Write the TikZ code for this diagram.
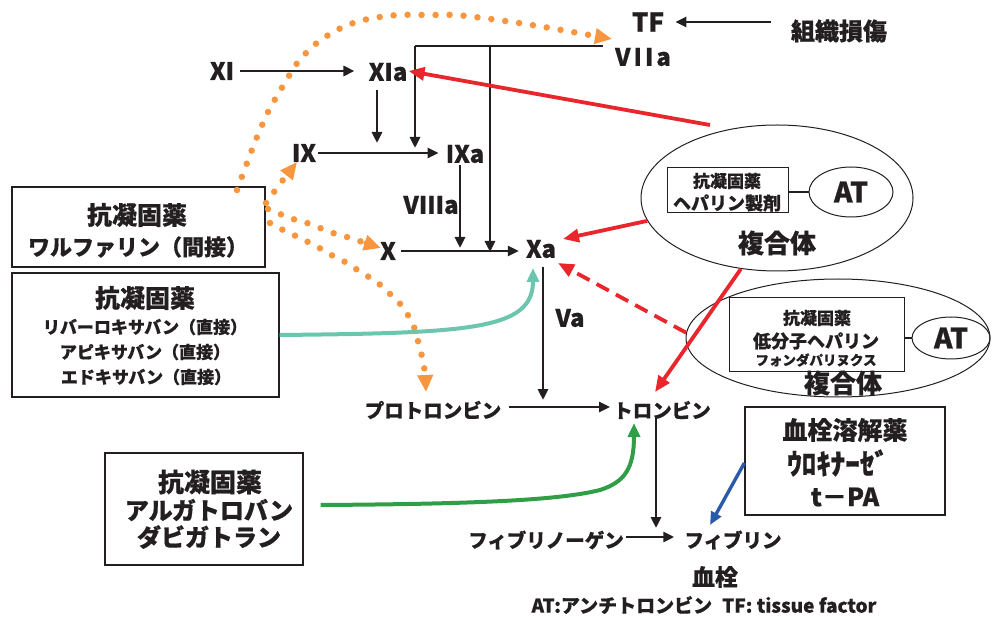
\documentclass[tikz,border=0pt]{standalone}
\usepackage{fontspec}
\setmainfont{Noto Sans CJK JP}[BoldFeatures={FakeBold=0.6}]
\usetikzlibrary{arrows.meta,shapes.geometric}
\definecolor{txt}{HTML}{231F20}
\definecolor{myred}{HTML}{E8262C}
\definecolor{myorange}{HTML}{F7963E}
\definecolor{myteal}{HTML}{6CC5AE}
\definecolor{mygreen}{HTML}{2F9E47}
\definecolor{myblue}{HTML}{2A5BAA}
\newcommand{\fsz}[1]{\fontsize{#1}{#1}\selectfont}
\begin{document}
\begin{tikzpicture}[x=1pt,y=-1pt,
 every node/.style={inner sep=0pt,text=txt,font=\bfseries},
 lbox/.style={draw=txt,line width=1.3pt},
 thin/.style={draw=txt,line width=1pt},
 ar/.style={draw=txt,line width=2.8pt,-{Triangle[length=11pt,width=10pt]}},
 ln/.style={draw=txt,line width=2.8pt},
 redar/.style={draw=myred,line width=3.8pt,-{Triangle[length=16pt,width=13pt]}},
 reddash/.style={draw=myred,line width=3.8pt,dash pattern=on 14pt off 8pt,-{Triangle[length=16pt,width=13pt]}},
 orar/.style={draw=myorange,line width=6.5pt,line cap=round,dash pattern=on 0pt off 14pt,-{Triangle[length=17pt,width=15pt]}},
 tealar/.style={draw=myteal,line width=4pt,-{Triangle[length=14pt,width=12pt]}},
 greenar/.style={draw=mygreen,line width=4pt,-{Triangle[length=14pt,width=12pt]}},
 bluear/.style={draw=myblue,line width=3.4pt,-{Triangle[length=13pt,width=11pt]}},
 fac/.style={font=\bfseries\fsz{24}},
 jp/.style={font=\bfseries\fsz{19.5}}
]
\useasboundingbox (0,0) rectangle (993,617);

% factor labels
\node[font=\bfseries\fsz{26}] (TF) at (648,22) {TF};
\node[font=\bfseries\fsz{24}] (injury) at (839,31) {組織損傷};
\node[fac] (VIIa) at (643,57) {V\hspace{3pt}I\hspace{3pt}I\hspace{3pt}a};
\node[fac] (XI) at (222,71) {XI};
\node[fac] (XIa) at (388,72) {XIa};
\node[fac] (IX) at (304,153) {IX};
\node[fac] (IXa) at (465,154) {IXa};
\node[fac] (VIIIa) at (431,205) {VIIIa};
\node[fac] (X) at (388,251) {X};
\node[fac] (Xa) at (541,249) {Xa};
\node[fac] (Va) at (570,318) {Va};
\node[jp] (proth) at (433,410) {プロトロンビン};
\node[jp] (thr) at (662,410) {トロンビン};
\node[jp] (fibg) at (546,540) {フィブリノーゲン};
\node[jp] (fib) at (733,540) {フィブリン};
\node[font=\bfseries\fsz{23}] (clot) at (715,577) {血栓};
\node[font=\bfseries\fsz{19}] (note) at (704,605) {AT:アンチトロンビン\hspace{10pt}TF: tissue factor};

% left boxes
\node[lbox,minimum width=253pt,minimum height=80pt] (wbox) at (138.5,227) {};
\node[font=\bfseries\fsz{25}] (w1) at (137,215) {抗凝固薬};
\node[font=\bfseries\fsz{22}] (w2) at (138,247) {ワルファリン（間接）};

\node[lbox,minimum width=267pt,minimum height=124pt] (rbox) at (145.5,335) {};
\node[font=\bfseries\fsz{25}] (r1) at (145,298) {抗凝固薬};
\node[font=\bfseries\fsz{17}] (r2) at (145,327) {リバーロキサバン（直接）};
\node[font=\bfseries\fsz{17}] (r3) at (145,352) {アピキサバン（直接）};
\node[font=\bfseries\fsz{17}] (r4) at (146,377) {エドキサバン（直接）};

\node[lbox,minimum width=198pt,minimum height=112pt] (abox) at (204,509) {};
\node[font=\bfseries\fsz{26}] (a1) at (210,482) {抗凝固薬};
\node[font=\bfseries\fsz{24}] (a2) at (209,510) {アルガトロバン};
\node[font=\bfseries\fsz{24}] (a3) at (209,537) {ダビガトラン};

% thrombolytic box
\node[lbox,minimum width=200pt,minimum height=108pt] (lbx) at (845,461) {};
\node[font=\bfseries\fsz{25}] (l1) at (845,430) {血栓溶解薬};
\node[font=\bfseries\fsz{29}] (l2) at (838,463) {ｳﾛｷﾅｰｾﾞ};
\node[font=\bfseries\fsz{25}] (l3) at (845,497) {t－PA};

% complex 1
\node[thin,ellipse,minimum width=272pt,minimum height=146pt] (cx1) at (777,198) {};
\node[thin,minimum width=121pt,minimum height=45pt] (ib1) at (727.5,190.5) {};
\node[font=\bfseries\fsz{17}] (h1) at (727,181) {抗凝固薬};
\node[font=\bfseries\fsz{18}] (h2) at (727,203) {ヘパリン製剤};
\node[thin,ellipse,minimum width=84pt,minimum height=50pt,font=\bfseries\fsz{28}] (at1) at (851,192) {AT};
\node[font=\bfseries\fsz{26}] (cx1t) at (777,243) {複合体};
\draw[ln,line width=1.8pt] (ib1.east |- at1.west) -- (at1.west);

% complex 2
\node[thin,ellipse,minimum width=304pt,minimum height=118pt] (cx2) at (838,338) {};
\node[thin,minimum width=175pt,minimum height=74pt] (ib2) at (816.5,335) {};
\node[font=\bfseries\fsz{17}] (k1) at (817,318) {抗凝固薬};
\node[font=\bfseries\fsz{18}] (k2) at (816,341) {低分子ヘパリン};
\node[font=\bfseries\fsz{13.5}] (k3) at (816,360) {フォンダパリヌクス};
\node[thin,ellipse,minimum width=78pt,minimum height=42pt,font=\bfseries\fsz{28}] (at2) at (951,338) {AT};
\node[font=\bfseries\fsz{26}] (cx2t) at (843,383) {複合体};
\draw[ln,line width=1.8pt] (ib2.east |- at2.west) -- (at2.west);

% junction coordinates
\coordinate (v1) at (603,46);
\coordinate (v2) at (415,46);
\coordinate (v3) at (490,46);
\coordinate (ixline) at (415,148);
\coordinate (xline) at (490,252);
\coordinate (ixa1) at (377,90);
\coordinate (ixa2) at (377,143);
\coordinate (viii1) at (460,165);
\coordinate (viii2) at (460,248);

% black connectors
\draw[ar] (injury.west |- TF) ++(-20,0) -- ([xshift=11pt]TF.east);
\draw[ar] ([xshift=6pt]XI.east) -- ([xshift=-14pt]XIa.west |- XI.east);
\draw[ln] (v1) -- (v2);
\draw[ar] (v2) -- (ixline);
\draw[ar] (v3) -- (xline);
\draw[ar] (ixa1) -- (ixa2);
\draw[ar] ([xshift=2pt]IX.east) -- ([xshift=-7pt]IXa.west |- IX.east);
\draw[ar] (viii1) -- (viii2);
\draw[ar] ([xshift=5pt]X.east) -- ([xshift=-7pt]Xa.west |- X.east);
\draw[ar] (543,267) coordinate (xad) -- (543,400) coordinate (xae);
\draw[ar] ([xshift=8pt]proth.east |- 0,407) -- ([xshift=-3pt]thr.west |- 0,407);
\draw[ar] (656,417) coordinate (thd) -- (656,528) coordinate (the);
\draw[ar] ([xshift=2pt]fibg.east |- 0,537) -- ([xshift=-10pt]fib.west |- 0,537);

% red connectors
\draw[redar] (710,125) coordinate (r1s) -- ([xshift=1pt,yshift=1pt]XIa.east);
\draw[redar] (cx1.190) -- (563,239) coordinate (r2e);
\draw[redar] (cx1.243) -- (655,392) coordinate (r3e);
\draw[reddash] (cx2.178) -- (558,263) coordinate (r4e);

% orange dotted
\draw[orar] plot[smooth] coordinates {(237,190) (247,163) (257,137) (269,110) (283,86) (298,62) (318,42) (343,27) (368,19) (398,15) (427,15) (455,15) (483,18) (512,22) (538,26) (567,31) (595,36) (612,39)};
\draw[orar] plot[smooth] coordinates {(266,203) (274,192) (283,180) (297,162)};
\draw[orar] plot[smooth] coordinates {(268,209) (280,214) (293,219) (307,223) (320,228) (333,233) (347,237) (381,248)};
\draw[orar] plot[smooth] coordinates {(270,223) (285,231) (298,237) (310,243) (323,250) (335,257) (347,263) (359,271) (372,279) (383,287) (393,297) (403,307) (410,319) (416,332) (419,346) (423,360) (425,375) (426,392)};

% teal, green, blue
\draw[tealar] (rbox.east) .. controls (470,333) and (533,330) .. (533,268) coordinate (te);
\draw[greenar] ([xshift=17pt]abox.east |- 0,505) .. controls (480,504) and (560,500) .. (600,490) .. controls (625,482) and (634,468) .. (634,423) coordinate (ge);
\draw[bluear] (lbx.west |- 0,463) -- (710,525) coordinate (be);
\end{tikzpicture}
\end{document}
